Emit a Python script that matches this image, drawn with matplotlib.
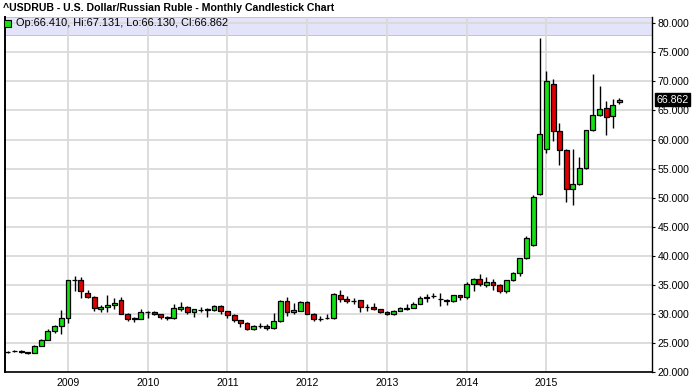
import matplotlib
matplotlib.use("Agg")
import matplotlib.pyplot as plt
import matplotlib.dates as mdates
from matplotlib.patches import Rectangle
from datetime import datetime

plt.rcParams['font.family'] = ['Liberation Sans', 'DejaVu Sans']

# ---- data (monthly, Apr 2008 .. Dec 2015) ----
start_year, start_month = 2008, 4
opens = [23.5, 23.6, 23.7, 23.45, 23.4, 24.6, 25.6, 27.1, 27.9,
         29.4, 35.85, 35.8, 33.6, 33.0, 30.9, 31.15, 31.5, 32.4, 30.1, 29.1, 29.2,
         30.3, 30.3, 29.95, 29.45, 29.3, 30.8, 31.3, 30.3, 30.65, 30.7, 30.75, 31.45,
         30.5, 29.85, 28.95, 28.5, 27.5, 27.9, 28.0, 27.6, 28.8, 32.2, 30.3, 30.6,
         32.0, 30.05, 29.1, 29.25, 29.3, 33.3, 32.6, 32.2, 32.4, 31.15, 31.3, 30.8,
         30.3, 30.0, 30.6, 30.8, 31.1, 31.8, 32.8, 33.1, 32.6, 32.3, 32.2, 33.2,
         32.9, 35.1, 36.1, 35.0, 35.6, 34.95, 33.9, 35.8, 37.0, 39.6, 41.8, 50.7,
         58.4, 69.5, 61.5, 58.2, 51.5, 52.3, 55.1, 61.6, 64.2, 65.4, 64.0, 66.410]
highs = [23.7, 23.8, 23.75, 23.5, 24.7, 25.8, 27.4, 28.1, 30.7,
         35.9, 36.5, 36.4, 34.2, 33.1, 31.6, 33.3, 32.8, 32.9, 30.2, 29.5, 30.9,
         30.6, 30.6, 30.1, 29.7, 31.7, 32.0, 31.4, 30.9, 31.2, 31.0, 31.5, 31.5,
         30.6, 30.0, 29.0, 28.6, 28.2, 28.4, 28.3, 30.2, 32.4, 32.9, 31.9, 32.2,
         32.2, 30.2, 29.7, 30.0, 33.7, 34.1, 33.1, 32.7, 32.5, 31.7, 31.85, 30.9,
         30.6, 30.7, 31.2, 31.7, 32.1, 33.1, 33.4, 33.55, 33.55, 32.6, 33.3, 33.3,
         35.5, 36.25, 36.9, 36.3, 36.0, 35.1, 35.9, 37.2, 39.7, 43.5, 50.5, 77.4,
         71.8, 70.4, 62.9, 58.4, 58.3, 57.0, 61.7, 71.2, 69.2, 66.6, 67.0, 67.131]
lows = [23.3, 23.5, 23.4, 23.1, 23.3, 24.5, 25.5, 26.7, 26.5,
        28.4, 33.9, 32.8, 32.7, 30.6, 30.3, 30.4, 30.9, 30.0, 28.9, 28.6, 29.1,
        29.3, 29.8, 29.1, 29.0, 29.2, 30.6, 30.0, 29.5, 30.4, 29.5, 30.5, 30.1,
        29.4, 28.7, 27.8, 27.2, 27.3, 27.6, 27.3, 27.5, 28.7, 29.6, 30.0, 30.5,
        30.0, 28.9, 28.9, 29.1, 29.2, 32.0, 31.9, 31.7, 30.4, 30.6, 30.7, 30.2,
        29.8, 29.8, 30.5, 30.7, 31.0, 31.7, 32.1, 32.75, 31.4, 31.5, 32.05, 32.4,
        32.6, 34.0, 34.9, 34.7, 34.1, 33.55, 33.6, 35.7, 36.6, 39.4, 41.7, 50.5,
        57.6, 59.8, 55.6, 49.3, 48.7, 52.1, 54.9, 61.4, 64.0, 60.8, 62.0, 66.130]
closes = [23.55, 23.7, 23.45, 23.4, 24.6, 25.6, 27.1, 27.9, 29.4,
          35.8, 35.9, 33.9, 33.0, 31.0, 31.2, 31.5, 31.9, 30.1, 29.1, 29.25, 30.3,
          30.4, 29.95, 29.45, 29.35, 31.0, 31.3, 30.4, 30.8, 30.75, 30.8, 31.4, 30.5,
          29.85, 28.95, 28.5, 27.5, 27.9, 28.0, 27.65, 28.8, 32.2, 30.3, 30.7, 32.0,
          30.1, 29.1, 29.2, 29.3, 33.45, 32.6, 32.2, 32.3, 31.15, 31.25, 30.85, 30.3,
          30.0, 30.6, 31.0, 31.1, 31.8, 32.85, 32.9, 33.15, 32.55, 32.35, 33.2, 32.9,
          35.1, 36.1, 35.1, 35.6, 34.95, 33.9, 35.8, 37.0, 39.6, 43.0, 50.05, 60.9,
          70.0, 61.5, 58.2, 51.5, 52.4, 55.1, 61.6, 64.2, 65.2, 63.8, 65.9, 66.862]

year_ticks = [2009, 2010, 2011, 2012, 2013, 2014, 2015]
y_ticks = [20, 25, 30, 35, 40, 45, 50, 55, 60, 65, 70, 75, 80]
title = "^USDRUB - U.S. Dollar/Russian Ruble - Monthly Candlestick Chart"

# dates
dates = []
y, m = start_year, start_month
for _ in range(len(opens)):
    dates.append(datetime(y, m, 1))
    m += 1
    if m > 12:
        m = 1
        y += 1
x = mdates.date2num(dates)

GREEN = '#14E014'
RED = '#E00000'

fig = plt.figure(figsize=(6.92, 3.88), dpi=100)
ax = fig.add_axes([5 / 692, 1 - 372.3 / 388, (652 - 5) / 692, (372.3 - 17.3) / 388])

# grid
for yv in y_ticks:
    ax.axhline(yv, color='#DADADA', lw=1.3, zorder=0.5)
for yr in year_ticks:
    ax.axvline(mdates.date2num(datetime(yr, 1, 1)), color='#DADADA', lw=1.3, zorder=0.5)

# legend band
ax.add_patch(Rectangle((0, 1 - 17.7 / 355), 1, 17.7 / 355, transform=ax.transAxes,
                       facecolor='#E3E3FA', edgecolor='#BBBBCC', lw=0.6, zorder=0.3))

colors = [GREEN if c >= o else RED for o, c in zip(opens, closes)]
ax.vlines(x, lows, highs, color='black', lw=1.0, zorder=2)
bottoms = [min(o, c) for o, c in zip(opens, closes)]
heights = [max(abs(c - o), 0.02) for o, c in zip(opens, closes)]
ax.bar(x, heights, bottom=bottoms, width=22, color=colors, edgecolor='black',
       linewidth=0.9, zorder=3)

ax.set_xlim(mdates.date2num(datetime(2008, 3, 19)), mdates.date2num(datetime(2016, 4, 28)))
ax.set_ylim(20, 81.0)

ax.set_xticks([mdates.date2num(datetime(yr, 1, 1)) for yr in year_ticks])
ax.set_xticklabels([str(yr) for yr in year_ticks])
ax.set_yticks(y_ticks)
ax.set_yticklabels([f"{v:.3f}" for v in y_ticks])
ax.yaxis.tick_right()
ax.tick_params(axis='y', length=2.5, width=0.8, pad=1.5, labelsize=7.6, colors='black')
ax.tick_params(axis='x', length=0, pad=4, labelsize=7.6)

for s in ['left', 'bottom', 'right']:
    ax.spines[s].set_color('black')
ax.spines['left'].set_linewidth(1.4)
ax.spines['bottom'].set_linewidth(1.2)
ax.spines['right'].set_linewidth(1.0)
ax.spines['top'].set_visible(False)

# last value label
last = closes[-1]
ax.text(1.0 + 4 / 647, last, f"{last:.3f}", transform=ax.get_yaxis_transform(),
        ha='left', va='center', fontsize=7.6, color='white', zorder=10,
        bbox=dict(boxstyle='square,pad=0.12', facecolor='black', edgecolor='black'),
        clip_on=False)

# legend text
fig.patches.append(Rectangle((4 / 692, 1 - 26.5 / 388), 6.5 / 692, 6.5 / 388,
                             transform=fig.transFigure, facecolor=GREEN,
                             edgecolor='black', lw=0.8, zorder=5))
fig.text(16 / 692, 1 - 23 / 388,
         f"Op:{opens[-1]:.3f}, Hi:{highs[-1]:.3f}, Lo:{lows[-1]:.3f}, Cl:{closes[-1]:.3f}",
         ha='left', va='center', fontsize=7.9, color='black')

fig.text(3 / 692, 1 - 8 / 388, title, ha='left', va='center', fontsize=7.6,
         fontweight='bold', color='black')

fig.savefig('out.png', dpi=100)
